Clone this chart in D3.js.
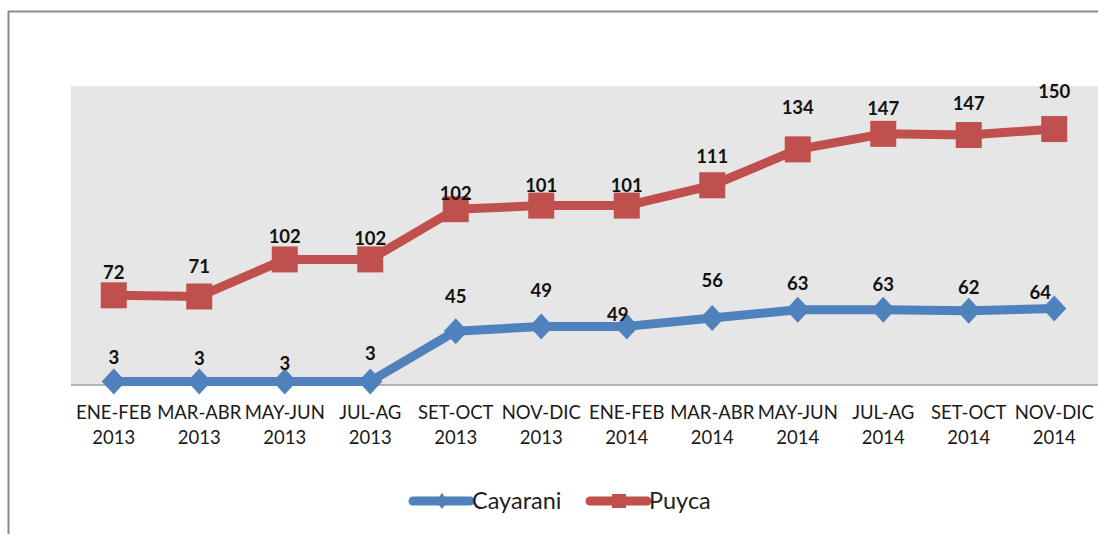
<!DOCTYPE html>
<html><head><meta charset="utf-8">
<script src="https://cdn.jsdelivr.net/npm/d3@7"></script>
<style>html,body{margin:0;padding:0;background:#fff;overflow:hidden}</style>
</head><body>
<script>
const periods = ["ENE-FEB","MAR-ABR","MAY-JUN","JUL-AG","SET-OCT","NOV-DIC","ENE-FEB","MAR-ABR","MAY-JUN","JUL-AG","SET-OCT","NOV-DIC"];
const years = ["2013","2013","2013","2013","2013","2013","2014","2014","2014","2014","2014","2014"];
const cayarani = [3,3,3,3,45,49,49,56,63,63,62,64];
const puyca = [72,71,102,102,102,101,101,111,134,147,147,150];
const seriesNames = ["Cayarani","Puyca"];
// label offsets (style: manual label placement)
const cayDy = [-24,-23,-18,-28,-35,-36,-12,-38,-26,-25,-23,-16];
const cayDx = [0,0,0,0,0,0,-9,0,0,0,0,-14];
const puyDy = [-23,-30,-23,-21,-16,-20,-20,-29,-42,-25,-32,-38];

const W=1098,H=534;
const svg=d3.select("body").append("svg").attr("width",W).attr("height",H);
const colors={Cayarani:"#4F81BD",Puyca:"#C0504D"};
const pL=71,pR=1097,pT=86,pB=385;
const FONT="Lato, 'Open Sans', sans-serif";

svg.append("path").attr("d",`M8.5,${H+2} L8.5,11.5 L${W+2},11.5`).attr("fill","none").attr("stroke","#8a8a8a").attr("stroke-width",2);
svg.append("rect").attr("x",pL).attr("y",pT).attr("width",pR-pL+5).attr("height",pB-pT).attr("fill","#E6E6E6");

const x=d3.scaleBand().domain(d3.range(periods.length)).range([pL,pR]);
const y=d3.scaleLinear().domain([0,250]).range([pB,pT]);
const stacked=cayarani.map((v,i)=>v+puyca[i]);

const axis=svg.append("g").attr("transform",`translate(0,${pB})`).call(d3.axisBottom(x).tickSize(0).tickFormat(""));
axis.select(".domain").attr("stroke","#a0a0a0").attr("stroke-width",1.5).attr("d",`M${pL},0H${W+5}`);

const cx=i=>x(i)+x.bandwidth()/2;
const lbl=svg.append("g").attr("font-family",FONT).attr("font-size",18.5).attr("fill","#1a1a1a");
periods.forEach((p,i)=>{
  lbl.append("text").attr("x",cx(i)).attr("y",pB+34).attr("text-anchor","middle").text(p);
  lbl.append("text").attr("x",cx(i)).attr("y",pB+59).attr("text-anchor","middle").text(years[i]);
});

const line=d3.line().x((d,i)=>cx(i)).y(d=>y(d));
const diamond=(hw,hh)=>`M0,${-hh}L${hw},0L0,${hh}L${-hw},0Z`;
const square=s=>`M${-s/2},${-s/2}h${s}v${s}h${-s}Z`;

function drawSeries(vals,labels,color,shapePath,dy,dx){
  svg.append("path").datum(vals).attr("d",line).attr("fill","none").attr("stroke",color).attr("stroke-width",9).attr("stroke-linejoin","round");
  svg.selectAll(null).data(vals).enter().append("path")
    .attr("transform",(d,i)=>`translate(${cx(i)},${y(d)})`)
    .attr("d",shapePath).attr("fill",color);
  svg.selectAll(null).data(labels).enter().append("text")
    .attr("x",(d,i)=>cx(i)+(dx?dx[i]:0)).attr("y",(d,i)=>y(vals[i])+dy[i]+6.5)
    .attr("text-anchor","middle").attr("font-family",FONT)
    .attr("font-weight","bold").attr("font-size",18.5).attr("fill","#111").text(d=>d);
}
drawSeries(cayarani,cayarani,colors.Cayarani,diamond(12,13),cayDy,cayDx);
drawSeries(stacked,puyca,colors.Puyca,square(26),puyDy,null);

// legend
const lg=svg.append("g").attr("font-family",FONT).attr("font-size",23.5).attr("fill","#222");
const items=[{n:seriesNames[0],x0:413,shape:diamond(6,8)},{n:seriesNames[1],x0:590,shape:square(14)}];
items.forEach(it=>{
  const c=colors[it.n];
  lg.append("line").attr("x1",it.x0).attr("x2",it.x0+57).attr("y1",501).attr("y2",501).attr("stroke",c).attr("stroke-width",9).attr("stroke-linecap","round");
  lg.append("path").attr("transform",`translate(${it.x0+29},501)`).attr("d",it.shape).attr("fill",c);
  lg.append("text").attr("x",it.x0+59).attr("y",509).text(it.n);
});
</script>
</body></html>
